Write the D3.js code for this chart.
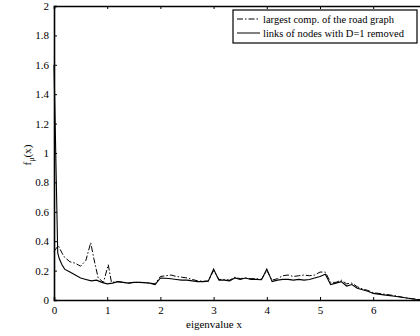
<!DOCTYPE html>
<html><head><meta charset="utf-8">
<script src="https://cdn.jsdelivr.net/npm/d3@7/dist/d3.min.js"></script>
<style>body{margin:0;background:#fff}svg{display:block}text{font-family:"Liberation Serif","Times New Roman",serif}</style>
</head><body><svg id="c" width="420" height="336"></svg>
<script>
const seriesNames = ["largest comp. of the road graph", "links of nodes with D=1 removed"];
const xTicks = [0,1,2,3,4,5,6];
const yTicks = [0,0.2,0.4,0.6,0.8,1,1.2,1.4,1.6,1.8,2];

const solidX = [0,0.07,0.1,0.15,0.2,0.3,0.4,0.5,0.6,0.7,0.8,0.9,1.0,1.1,1.2,1.3,1.4,1.5,1.6,1.7,1.8,1.9,2.0,2.1,2.2,2.3,2.4,2.5,2.6,2.7,2.8,2.9,3.0,3.1,3.2,3.3,3.4,3.5,3.6,3.7,3.8,3.9,4.0,4.1,4.2,4.3,4.4,4.5,4.6,4.7,4.8,4.9,5.0,5.1,5.2,5.3,5.4,5.5,5.6,5.7,5.8,5.9,6.0,6.2,6.4,6.6,6.8,7.0];
const solidY = [1.6,0.32,0.28,0.24,0.21,0.19,0.17,0.15,0.14,0.13,0.135,0.12,0.11,0.115,0.125,0.12,0.115,0.12,0.12,0.118,0.115,0.105,0.15,0.148,0.145,0.14,0.135,0.135,0.13,0.125,0.125,0.128,0.21,0.135,0.135,0.13,0.15,0.14,0.15,0.14,0.14,0.138,0.21,0.125,0.135,0.14,0.14,0.135,0.14,0.135,0.14,0.15,0.16,0.175,0.105,0.115,0.125,0.095,0.105,0.08,0.07,0.06,0.045,0.035,0.025,0.015,0.005,0];

const dashX = [0,0.08,0.15,0.2,0.3,0.4,0.5,0.6,0.69,0.75,0.83,0.93,1.02,1.08,1.2,1.3,1.4,1.5,1.6,1.7,1.8,1.9,2.0,2.1,2.2,2.3,2.4,2.5,2.6,2.7,2.8,2.9,3.0,3.1,3.2,3.3,3.4,3.5,3.6,3.7,3.8,3.9,4.0,4.1,4.2,4.3,4.4,4.5,4.6,4.7,4.8,4.9,5.0,5.1,5.2,5.3,5.4,5.5,5.6,5.7,5.8,5.9,6.0,6.2,6.4,6.6,6.8,7.0];
const dashY = [0.33,0.37,0.32,0.29,0.26,0.25,0.23,0.27,0.39,0.28,0.15,0.12,0.24,0.12,0.125,0.12,0.115,0.12,0.12,0.118,0.115,0.11,0.16,0.165,0.17,0.16,0.155,0.15,0.14,0.13,0.128,0.13,0.2,0.14,0.14,0.135,0.155,0.145,0.15,0.145,0.145,0.14,0.2,0.135,0.145,0.165,0.17,0.16,0.165,0.17,0.165,0.17,0.19,0.19,0.12,0.12,0.135,0.11,0.115,0.09,0.075,0.065,0.05,0.04,0.03,0.015,0.005,0];

const svg = d3.select("#c");
const L = 54, T = 6, B = 300;
const x = d3.scaleLinear().domain([0,7]).range([L, L + 7*53.2]);
const y = d3.scaleLinear().domain([0,2]).range([B, T]);

const line = d3.line().x(d => x(d[0])).y(d => y(d[1]));
const solid = solidX.map((v,i) => [v, solidY[i]]);
const dash = dashX.map((v,i) => [v, dashY[i]]);

svg.append("path").attr("d", line(dash)).attr("fill","none").attr("stroke","#000")
  .attr("stroke-width",1).attr("stroke-dasharray","6,2,1.5,2");
svg.append("path").attr("d", line(solid)).attr("fill","none").attr("stroke","#000")
  .attr("stroke-width",1.1);

// axes
const xAx = d3.axisBottom(x).tickValues(xTicks).tickSize(-3).tickPadding(6).tickFormat(d3.format("d"));
const gx = svg.append("g").attr("transform",`translate(0,${B})`).call(xAx);
const xTop = d3.axisTop(x).tickValues(xTicks).tickSize(-3).tickFormat("");
const gxt = svg.append("g").attr("transform",`translate(0,${T})`).call(xTop);
const yAx = d3.axisLeft(y).tickValues(yTicks).tickSize(-3).tickPadding(5).tickFormat(d => d);
const gy = svg.append("g").attr("transform",`translate(${L},0)`).call(yAx);
[gx,gxt,gy].forEach(g => {
  g.attr("font-family","Liberation Serif");
  g.select(".domain").attr("stroke-width",1.6);
  g.selectAll(".tick line").attr("stroke-width",1);
  g.selectAll("text").attr("font-size",11).attr("font-family","Liberation Serif").attr("fill","#000");
});
gx.selectAll(".tick text").attr("dy","0.71em");

// labels
svg.append("text").attr("x", 214).attr("y", 328).attr("text-anchor","middle").attr("font-size",11).text("eigenvalue x");
const yl = svg.append("text").attr("transform","translate(31,155) rotate(-90)").attr("text-anchor","middle").attr("font-size",11);
yl.append("tspan").text("f");
yl.append("tspan").attr("font-size",8).attr("dy",3).text("μ");
yl.append("tspan").attr("dy",-3).text("(x)");

// legend
const lg = svg.append("g");
lg.append("rect").attr("x",233).attr("y",10).attr("width",184).attr("height",33)
  .attr("fill","#fff").attr("stroke","#000").attr("stroke-width",1.2);
const dashes = ["6,2,1.5,2", null];
seriesNames.forEach((s,i) => {
  const yy = 19 + i*14;
  const l = lg.append("line").attr("x1",237).attr("x2",260).attr("y1",yy).attr("y2",yy)
    .attr("stroke","#000").attr("stroke-width",1);
  if (dashes[i]) l.attr("stroke-dasharray", dashes[i]);
  lg.append("text").attr("x",263).attr("y",yy+3.5).attr("font-size",10.5).text(s);
});
</script></body></html>
